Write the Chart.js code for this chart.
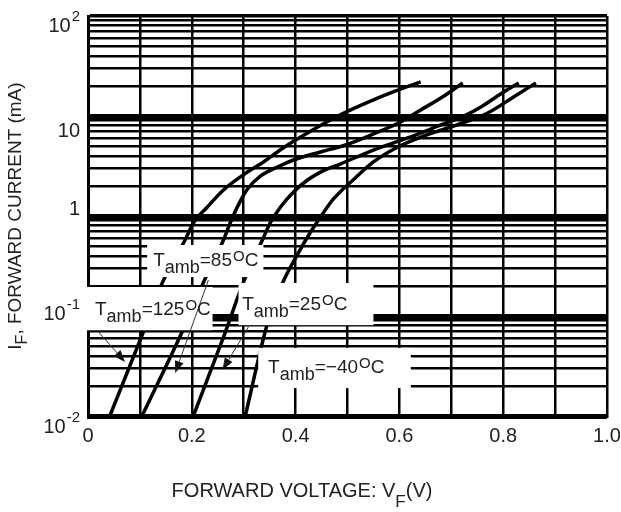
<!DOCTYPE html>
<html>
<head>
<meta charset="utf-8">
<script src="https://cdn.jsdelivr.net/npm/chart.js@4.4.1/dist/chart.umd.min.js"></script>
<style>
  html, body { margin: 0; padding: 0; background: #fff; }
</style>
</head>
<body>
<canvas id="vfChart" width="621" height="512"></canvas>
<script>
// forward voltage (V) / forward current (mA)
const vf125 = [0.042, 0.106, 0.143, 0.187, 0.203, 0.230, 0.261, 0.299, 0.338, 0.376, 0.423, 0.467, 0.506, 0.550, 0.593, 0.641];
const if125 = [0.01, 0.068, 0.214, 0.575, 0.851, 1.23, 1.82, 2.57, 3.47, 4.79, 6.76, 9.12, 11.5, 14.5, 17.8, 21.9];

const vf85 = [0.104, 0.183, 0.222, 0.261, 0.274, 0.290, 0.307, 0.332, 0.365, 0.396, 0.448, 0.496, 0.550, 0.598, 0.641, 0.683, 0.722];
const if85 = [0.01, 0.0724, 0.214, 0.575, 0.851, 1.30, 1.85, 2.50, 3.09, 3.63, 4.37, 5.13, 6.61, 8.51, 11.5, 15.5, 21.4];

const vf25 = [0.203, 0.264, 0.299, 0.336, 0.351, 0.371, 0.396, 0.423, 0.448, 0.486, 0.550, 0.616, 0.680, 0.728, 0.757, 0.795, 0.830];
const if25 = [0.01, 0.0676, 0.214, 0.575, 0.851, 1.23, 1.74, 2.29, 2.75, 3.31, 4.57, 6.03, 8.13, 10.2, 12.3, 16.6, 21.4];

const vfM40 = [0.303, 0.346, 0.375, 0.403, 0.423, 0.448, 0.473, 0.515, 0.550, 0.597, 0.647, 0.699, 0.737, 0.770, 0.820, 0.863];
const ifM40 = [0.01, 0.0851, 0.214, 0.407, 0.617, 0.977, 1.48, 2.40, 3.47, 4.90, 6.31, 7.76, 9.12, 10.7, 15.5, 21.4];

const tempLabels = ["125", "85", "25", "\u221240"];

const xTickValues = [0, 0.2, 0.4, 0.6, 0.8, 1.0];
const xTickLabels = ["0", "0.2", "0.4", "0.6", "0.8", "1.0"];
const yTickValues = [0.01, 0.1, 1, 10, 100];
const yTickBases = ["10", "10", "1", "10", "10"];
const yTickExps = ["-2", "-1", "", "", "2"];

// annotation geometry, in data units (V, mA)
const labelBoxes = [
  { v0: -0.008, v1: 0.240, i0: 0.072, i1: 0.195 },
  { v0: 0.114, v1: 0.338, i0: 0.245, i1: 0.513 },
  { v0: 0.290, v1: 0.550, i0: 0.081, i1: 0.214 },
  { v0: 0.328, v1: 0.622, i0: 0.019, i1: 0.048 },
];
const labelAnchors = [
  { v: 0.0135, i: 0.102 },
  { v: 0.1255, i: 0.316 },
  { v: 0.297, i: 0.115 },
  { v: 0.347, i: 0.0269 },
];
const arrows = [
  { v0: 0.017, i0: 0.0724, v1: 0.0714, i1: 0.0347 },
  { v0: 0.232, i0: 0.229, v1: 0.168, i1: 0.0269 },
  { v0: 0.309, i0: 0.0776, v1: 0.259, i1: 0.0288 },
];

const FONT = '"Liberation Sans", Arial, sans-serif';
const TEXT = "#222";
const yLabelShift = [17, 4, -1, 21, 16];

function toPoints(vs, is) {
  return vs.map((v, k) => ({ x: v, y: is[k] }));
}

function curve(label, vs, is) {
  return {
    label: label,
    data: toPoints(vs, is),
    showLine: true,
    borderColor: "#000",
    borderWidth: 3.5,
    pointRadius: 0,
    cubicInterpolationMode: "monotone",
    fill: false,
  };
}

function isDecade(v) {
  const e = Math.log10(v);
  return Math.abs(e - Math.round(e)) < 1e-6;
}

function drawTamb(ctx, x, y, value) {
  ctx.textAlign = "left";
  ctx.textBaseline = "alphabetic";
  ctx.fillStyle = TEXT;
  ctx.font = "19px " + FONT;
  ctx.fillText("T", x, y);
  x += ctx.measureText("T").width;
  ctx.font = "18px " + FONT;
  ctx.fillText("amb", x, y + 7);
  x += ctx.measureText("amb").width;
  ctx.font = "19px " + FONT;
  ctx.fillText("=" + value, x, y);
  x += ctx.measureText("=" + value).width + 1;
  ctx.font = "15px " + FONT;
  ctx.fillText("O", x, y - 5);
  x += ctx.measureText("O").width;
  ctx.font = "19px " + FONT;
  ctx.fillText("C", x, y);
}

function drawArrow(ctx, x0, y0, x1, y1) {
  const ang = Math.atan2(y1 - y0, x1 - x0);
  const len = 12, half = 4.5;
  ctx.strokeStyle = "#333";
  ctx.fillStyle = "#111";
  ctx.lineWidth = 1;
  ctx.beginPath();
  ctx.moveTo(x0, y0);
  ctx.lineTo(x1 - len * Math.cos(ang), y1 - len * Math.sin(ang));
  ctx.stroke();
  ctx.beginPath();
  ctx.moveTo(x1, y1);
  ctx.lineTo(x1 - len * Math.cos(ang) + half * Math.sin(ang), y1 - len * Math.sin(ang) - half * Math.cos(ang));
  ctx.lineTo(x1 - len * Math.cos(ang) - half * Math.sin(ang), y1 - len * Math.sin(ang) + half * Math.cos(ang));
  ctx.closePath();
  ctx.fill();
}

const overlay = {
  id: "overlay",
  afterDraw(chart) {
    const ctx = chart.ctx;
    const xs = chart.scales.x;
    const ys = chart.scales.y;
    ctx.save();

    // white label boxes knock out the grid, as on the datasheet
    ctx.fillStyle = "#fff";
    labelBoxes.forEach((b) => {
      const l = xs.getPixelForValue(b.v0);
      const r = xs.getPixelForValue(b.v1);
      const t = ys.getPixelForValue(b.i1);
      const btm = ys.getPixelForValue(b.i0);
      ctx.fillRect(l, t, r - l, btm - t);
    });

    arrows.forEach((a) => {
      drawArrow(ctx, xs.getPixelForValue(a.v0), ys.getPixelForValue(a.i0),
        xs.getPixelForValue(a.v1), ys.getPixelForValue(a.i1));
    });

    labelAnchors.forEach((p, k) => {
      drawTamb(ctx, xs.getPixelForValue(p.v), ys.getPixelForValue(p.i), tempLabels[k]);
    });

    // x tick labels
    ctx.fillStyle = TEXT;
    ctx.font = "20px " + FONT;
    ctx.textAlign = "center";
    ctx.textBaseline = "alphabetic";
    xTickValues.forEach((v, k) => {
      ctx.fillText(xTickLabels[k], xs.getPixelForValue(v), xs.bottom + 26);
    });

    // y tick labels with superscript exponents
    ctx.textAlign = "left";
    yTickValues.forEach((v, k) => {
      ctx.font = "20px " + FONT;
      const wb = ctx.measureText(yTickBases[k]).width;
      ctx.font = "15px " + FONT;
      const we = yTickExps[k] ? ctx.measureText(yTickExps[k]).width + 1 : 0;
      const right = ys.left - 8;
      const base = ys.getPixelForValue(v) + yLabelShift[k];
      ctx.font = "20px " + FONT;
      ctx.fillText(yTickBases[k], right - we - wb, base);
      if (yTickExps[k]) {
        ctx.font = "15px " + FONT;
        ctx.fillText(yTickExps[k], right - we + 1, base - 11);
      }
    });

    // x axis title
    ctx.font = "20px " + FONT;
    const t1 = "FORWARD VOLTAGE: V";
    const t3 = "(V)";
    const w1 = ctx.measureText(t1).width;
    const w3 = ctx.measureText(t3).width;
    ctx.font = "17px " + FONT;
    const w2 = ctx.measureText("F").width;
    const tx = 302 - (w1 + w2 + w3) / 2;
    const ty = 497;
    ctx.font = "20px " + FONT;
    ctx.fillText(t1, tx, ty);
    ctx.font = "17px " + FONT;
    ctx.fillText("F", tx + w1, ty + 10);
    ctx.font = "20px " + FONT;
    ctx.fillText(t3, tx + w1 + w2, ty);

    // y axis title, rotated
    ctx.save();
    ctx.translate(21, (ys.top + ys.bottom) / 2);
    ctx.rotate(-Math.PI / 2);
    ctx.font = "19px " + FONT;
    const s1 = "I";
    const s3 = ", FORWARD CURRENT (mA)";
    const a1 = ctx.measureText(s1).width;
    const a3 = ctx.measureText(s3).width;
    ctx.font = "16px " + FONT;
    const a2 = ctx.measureText("F").width;
    const sx = -(a1 + a2 + a3) / 2;
    ctx.font = "19px " + FONT;
    ctx.fillText(s1, sx, 0);
    ctx.font = "16px " + FONT;
    ctx.fillText("F", sx + a1, 6);
    ctx.font = "19px " + FONT;
    ctx.fillText(s3, sx + a1 + a2, 0);
    ctx.restore();

    ctx.restore();
  },
};

new Chart(document.getElementById("vfChart").getContext("2d"), {
  type: "scatter",
  data: {
    datasets: [
      curve("Tamb=125\u00b0C", vf125, if125),
      curve("Tamb=85\u00b0C", vf85, if85),
      curve("Tamb=25\u00b0C", vf25, if25),
      curve("Tamb=-40\u00b0C", vfM40, ifM40),
    ],
  },
  options: {
    responsive: false,
    animation: false,
    devicePixelRatio: 1,
    layout: { padding: { left: 88, right: 14, top: 16, bottom: 96 } },
    plugins: { legend: { display: false }, tooltip: { enabled: false } },
    scales: {
      x: {
        type: "linear",
        min: 0,
        max: 1,
        ticks: { display: false, stepSize: 0.1 },
        grid: { color: "#000", lineWidth: 2.5, drawTicks: false },
        border: { color: "#000", width: 3 },
      },
      y: {
        type: "logarithmic",
        min: 0.01,
        max: 100,
        ticks: { display: false },
        afterBuildTicks: (scale) => {
          const ticks = [];
          for (let e = -2; e < 2; e++) {
            for (let k = 1; k < 10; k++) ticks.push({ value: k * Math.pow(10, e) });
          }
          ticks.push({ value: 100 });
          scale.ticks = ticks;
        },
        grid: {
          color: "#000",
          drawTicks: false,
          lineWidth: (c) => {
            if (!c.tick) return 2.5;
            if (c.tick.value >= 100) return 3.5;
            return isDecade(c.tick.value) ? 5 : 2.5;
          },
        },
        border: { color: "#000", width: 3 },
      },
    },
  },
  plugins: [overlay],
});
</script>
</body>
</html>
